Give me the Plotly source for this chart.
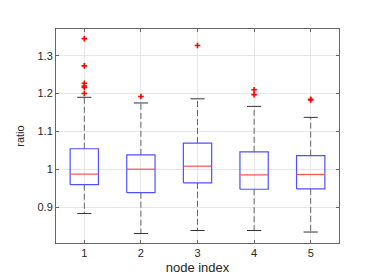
import plotly.graph_objects as go

nodes = [1, 2, 3, 4, 5]
q1 = [0.959, 0.938, 0.964, 0.947, 0.948]
median = [0.987, 1.000, 1.008, 0.985, 0.986]
q3 = [1.054, 1.038, 1.069, 1.046, 1.036]
whisker_low = [0.883, 0.830, 0.838, 0.838, 0.834]
whisker_high = [1.190, 1.175, 1.186, 1.166, 1.137]
outlier_x = [1, 1, 1, 1, 1, 1, 2, 3, 4, 4, 5, 5]
outlier_y = [1.345, 1.273, 1.227, 1.220, 1.216, 1.200, 1.192, 1.327, 1.210, 1.197, 1.183, 1.185]

ytick_vals = [0.9, 1.0, 1.1, 1.2, 1.3]
ytick_text = ["0.9", "1", "1.1", "1.2", "1.3"]

box_half = 0.25
cap_half = 0.125

bx, by, mx, my, wx, wy, cx, cy = [], [], [], [], [], [], [], []
for i, n in enumerate(nodes):
    bx += [n - box_half, n + box_half, n + box_half, n - box_half, n - box_half, None]
    by += [q1[i], q1[i], q3[i], q3[i], q1[i], None]
    mx += [n - box_half, n + box_half, None]
    my += [median[i], median[i], None]
    wx += [n, n, None, n, n, None]
    wy += [q3[i], whisker_high[i], None, q1[i], whisker_low[i], None]
    cx += [n - cap_half, n + cap_half, None, n - cap_half, n + cap_half, None]
    cy += [whisker_high[i], whisker_high[i], None, whisker_low[i], whisker_low[i], None]

fig = go.Figure()
fig.add_trace(go.Scatter(x=wx, y=wy, mode="lines", line=dict(color="#666666", width=1, dash="6px,3px"), hoverinfo="skip"))
fig.add_trace(go.Scatter(x=cx, y=cy, mode="lines", line=dict(color="#333333", width=1), hoverinfo="skip"))
fig.add_trace(go.Scatter(x=bx, y=by, mode="lines", line=dict(color="#5050ff", width=1.2), hoverinfo="skip"))
fig.add_trace(go.Scatter(x=mx, y=my, mode="lines", line=dict(color="#ff5050", width=1.2), hoverinfo="skip"))
fig.add_trace(go.Scatter(x=outlier_x, y=outlier_y, mode="markers",
                         marker=dict(symbol="cross-thin", size=4, line=dict(color="red", width=1.6)),
                         hoverinfo="skip"))

axis_common = dict(showgrid=True, gridcolor="#e6e6e6", gridwidth=1, zeroline=False,
                   showline=True, linecolor="#666666", linewidth=1, mirror="ticks",
                   ticks="inside", ticklen=3, tickcolor="#666666",
                   tickfont=dict(family="Liberation Sans, Arial", size=11, color="#262626"))

fig.update_layout(
    width=366, height=276,
    margin=dict(l=48, r=35, t=21, b=36),
    paper_bgcolor="white", plot_bgcolor="white",
    showlegend=False,
    font=dict(family="Liberation Sans, Arial", color="#262626"),
    xaxis=dict(range=[0.5, 5.5], tickvals=nodes, ticktext=[str(n) for n in nodes],
               title=dict(text="node index", font=dict(size=13), standoff=4), **axis_common),
    yaxis=dict(range=[0.805, 1.3705], tickvals=ytick_vals, ticktext=ytick_text,
               title=dict(text="ratio", font=dict(size=11), standoff=10), **axis_common),
)

fig.write_html("out.html")
